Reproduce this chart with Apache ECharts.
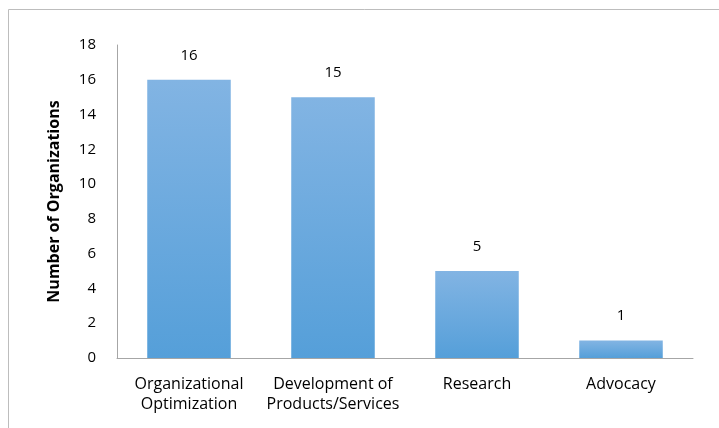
<!DOCTYPE html>
<html><head><meta charset="utf-8">
<script src="https://cdn.jsdelivr.net/npm/echarts@6/dist/echarts.min.js"></script>
<style>html,body{margin:0;padding:0;background:#fff}#c{width:719px;height:428px}</style>
</head><body><div id="c"></div>
<script>
var categories = ['Organizational\nOptimization', 'Development of\nProducts/Services', 'Research', 'Advocacy'];
var values = [16, 15, 5, 1];
var yTicks = [0, 2, 4, 6, 8, 10, 12, 14, 16, 18];
var font = '"Open Sans", Lato, sans-serif';
var chart = echarts.init(document.getElementById('c'));
chart.setOption({
  animation: false,
  graphic: [{type: 'polyline', shape: {points: [[8.5, 440], [8.5, 9.5], [730, 9.5]]}, style: {stroke: '#bdbdbd', lineWidth: 1, fill: null}}],
  grid: {left: 117, right: 26, top: 45, bottom: 70},
  xAxis: {
    type: 'category', data: categories,
    axisLine: {lineStyle: {color: '#a6a6a6'}},
    axisTick: {show: false},
    axisLabel: {color: '#000', fontFamily: font, fontSize: 16, lineHeight: 20, margin: 16, interval: 0}
  },
  yAxis: {
    type: 'value', min: 0, max: 18, interval: 2,
    name: 'Number of Organizations', nameLocation: 'middle', nameGap: 55,
    nameTextStyle: {color: '#000', fontFamily: font, fontSize: 16, fontWeight: 'bold'},
    axisLine: {show: true, lineStyle: {color: '#a6a6a6'}},
    axisTick: {show: false},
    splitLine: {show: false},
    axisLabel: {color: '#000', fontFamily: font, fontSize: 15, margin: 21,
      formatter: function (v) { return yTicks.indexOf(v) >= 0 ? String(v) : ''; }}
  },
  series: [{
    type: 'bar', data: values, barWidth: '58%',
    itemStyle: {color: new echarts.graphic.LinearGradient(0, 0, 0, 1, [{offset: 0, color: '#82b4e3'}, {offset: 1, color: '#559fd9'}])},
    label: {show: true, position: 'top', distance: 17, color: '#000', fontFamily: font, fontSize: 15}
  }]
});
</script></body></html>
